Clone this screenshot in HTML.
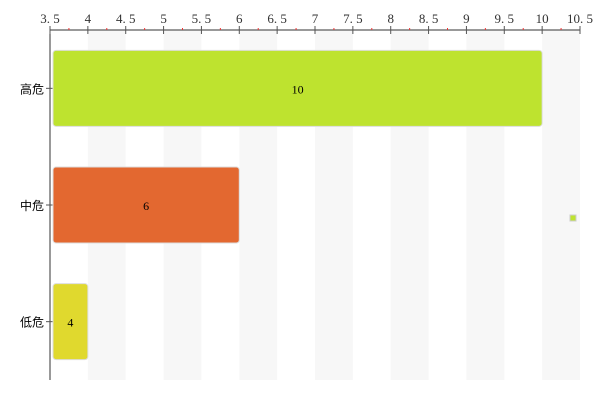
<!DOCTYPE html>
<html><head><meta charset="utf-8"><style>
body{margin:0;background:#fff;}
svg{display:block;font-family:"Liberation Serif","Noto Sans CJK SC",serif;}
</style></head><body>
<svg id="c" width="600" height="400"></svg>
<script>
const categories=["高危","中危","低危"];
const values=[10,6,4];
const colors=["#bee32f","#e36830","#e0d92e"];
const ticks=[3.5,4,4.5,5,5.5,6,6.5,7,7.5,8,8.5,9,9.5,10,10.5];
const tickLabels=["3.5","4","4.5","5","5.5","6","6.5","7","7.5","8","8.5","9","9.5","10","10.5"];
const NS="http://www.w3.org/2000/svg";
const svg=document.getElementById('c');
const x0=50,x1=580,y0=30,y1=380,minV=3.5,maxV=10.5;
const X=v=>x0+(v-minV)/(maxV-minV)*(x1-x0);
const bandH=(y1-y0)/categories.length;
function mk(t,a,p){const e=document.createElementNS(NS,t);for(const k in a)e.setAttribute(k,a[k]);(p||svg).appendChild(e);return e;}
// shaded columns
for(let i=0;i<ticks.length-1;i++){if(i%2===1){
 const r=mk('rect',{x:X(ticks[i]),y:y0,width:X(ticks[i+1])-X(ticks[i]),height:y1-y0,fill:'#f7f7f7'});
 
 
}}
// axes
const xa=mk('line',{x1:x0,y1:y0,x2:x1,y2:y0,stroke:'#333','stroke-width':1});


const ya=mk('line',{x1:x0,y1:y0,x2:x0,y2:y1,stroke:'#333','stroke-width':1});


ticks.forEach((t,i)=>{
 mk('line',{x1:X(t),y1:y0-4,x2:X(t),y2:y0+4,stroke:'#555'});
 if(i<ticks.length-1){mk('line',{x1:X(t+0.25),y1:y0-2,x2:X(t+0.25),y2:y0,stroke:'#e33'});}
 const tx=mk('text',{x:X(t),y:y0-7,'text-anchor':'middle','font-size':13,fill:'#333'});
 tx.textContent=tickLabels[i].replace('.','. ');
 
 
});
categories.forEach((c,i)=>{
 const cy=y0+bandH*(i+0.5);
 mk('line',{x1:x0-4,y1:cy,x2:x0+4,y2:cy,stroke:'#555'});
 const l=mk('text',{x:x0-6,y:cy+5,'text-anchor':'end','font-size':12,fill:'#000'});
 l.textContent=c;
 
 
 const bx=x0+3,bw=X(values[i])-bx,bh=76;
 const b=mk('rect',{x:bx,y:cy-bh/2,width:bw,height:bh,rx:3,fill:colors[i],stroke:'#ddd','stroke-width':1});
 
 
 const v=mk('text',{x:bx+bw/2,y:cy+5,'text-anchor':'middle','font-size':12,fill:'#000'});
 v.textContent=values[i];
 
 
});
const lg=mk('rect',{x:570,y:215,width:6,height:6,fill:'#bee32f',stroke:'#ccc'});


</script>
</body></html>
